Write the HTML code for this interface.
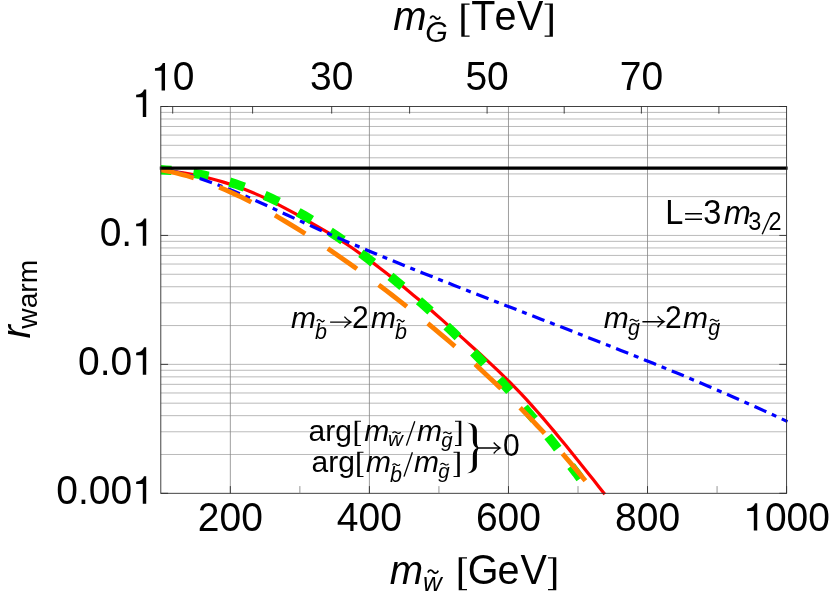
<!DOCTYPE html><html><head><meta charset="utf-8"><title>plot</title><style>html,body{margin:0;padding:0;background:#fff}</style></head><body><svg width="830" height="593" viewBox="0 0 830 593" style="display:block;font-family:'Liberation Sans',sans-serif;font-kerning:none">
<rect width="830" height="593" fill="#fff"/>
<path d="M160.8,235.43H786.6M160.8,196.62H786.6M160.8,173.92H786.6M160.8,157.81H786.6M160.8,145.31H786.6M160.8,135.10H786.6M160.8,126.47H786.6M160.8,118.99H786.6M160.8,112.40H786.6M160.8,364.37H786.6M160.8,325.55H786.6M160.8,302.85H786.6M160.8,286.74H786.6M160.8,274.25H786.6M160.8,264.04H786.6M160.8,255.41H786.6M160.8,247.93H786.6M160.8,241.33H786.6M160.8,454.49H786.6M160.8,431.78H786.6M160.8,415.67H786.6M160.8,403.18H786.6M160.8,392.97H786.6M160.8,384.34H786.6M160.8,376.86H786.6M160.8,370.27H786.6" stroke="#9c9c9c" stroke-width="0.7" fill="none"/>
<path d="M230.33,106.5V493.3M369.40,106.5V493.3M508.47,106.5V493.3M647.53,106.5V493.3" stroke="#858585" stroke-width="0.8" fill="none"/>
<clipPath id="c"><rect x="159.3" y="106.5" width="628.8" height="389.6"/></clipPath>
<g clip-path="url(#c)" fill="none">
<path d="M160.8,169.5 L166.4,170.1 L172.0,170.8 L177.7,171.6 L183.3,172.4 L188.9,173.4 L194.5,174.5 L200.1,175.7 L205.8,176.9 L211.4,178.3 L217.0,179.8 L222.6,181.5 L228.2,183.2 L233.9,185.1 L239.5,187.0 L245.1,189.1 L250.7,191.4 L256.3,193.7 L262.0,196.2 L267.6,198.9 L273.2,201.6 L278.8,204.5 L284.4,207.4 L290.1,210.4 L295.7,213.5 L301.3,216.7 L306.9,219.9 L312.5,223.2 L318.2,226.4 L323.8,229.7 L329.4,233.0 L335.0,236.5 L340.6,240.0 L346.3,243.6 L351.9,247.4 L357.5,251.3 L363.1,255.3 L368.7,259.3 L374.4,263.5 L380.0,267.8 L385.6,272.1 L391.2,276.5 L396.9,281.0 L402.5,285.6 L408.1,290.3 L413.7,295.0 L419.3,299.7 L425.0,304.5 L430.6,309.4 L436.2,314.3 L441.8,319.2 L447.4,324.2 L453.1,329.2 L458.7,334.2 L464.3,339.2 L469.9,344.3 L475.5,349.4 L481.2,354.5 L486.8,359.7 L492.4,364.9 L498.0,370.3 L503.6,375.7 L509.3,381.3 L514.9,387.0 L520.5,392.8 L526.1,398.8 L531.7,405.0 L537.4,411.3 L543.0,417.7 L548.6,424.3 L554.2,431.0 L559.8,437.8 L565.5,444.7 L571.1,451.6 L576.7,458.5 L582.3,465.6 L587.9,472.6 L593.6,479.7 L599.2,486.8 L604.8,493.9" stroke="#ff0000" stroke-width="3.2" transform="translate(0,0.4)"/>
<path d="M160.8,169.5 L166.1,169.8 L171.5,170.1 L176.8,170.6 L182.1,171.2 L187.4,171.9 L192.8,172.8 L198.1,173.7 L203.4,174.8 L208.8,176.0 L214.1,177.3 L219.4,178.7 L224.7,180.2 L230.1,181.9 L235.4,183.6 L240.7,185.5 L246.0,187.4 L251.4,189.5 L256.7,191.7 L262.0,193.9 L267.4,196.3 L272.7,198.8 L278.0,201.3 L283.3,204.0 L288.7,206.8 L294.0,209.6 L299.3,212.6 L304.7,215.6 L310.0,218.8 L315.3,222.0 L320.6,225.3 L326.0,228.7 L331.3,232.2 L336.6,235.7 L341.9,239.4 L347.3,243.1 L352.6,246.9 L357.9,250.8 L363.3,254.7 L368.6,258.8 L373.9,262.9 L379.2,267.1 L384.6,271.3 L389.9,275.6 L395.2,280.0 L400.6,284.5 L405.9,289.0 L411.2,293.6 L416.5,298.3 L421.9,303.0 L427.2,307.8 L432.5,312.6 L437.8,317.5 L443.2,322.5 L448.5,327.5 L453.8,332.6 L459.2,337.8 L464.5,343.0 L469.8,348.3 L475.1,353.7 L480.5,359.2 L485.8,364.7 L491.1,370.4 L496.5,376.1 L501.8,381.9 L507.1,387.7 L512.4,393.7 L517.8,399.8 L523.1,405.9 L528.4,412.2 L533.7,418.5 L539.1,424.9 L544.4,431.5 L549.7,438.1 L555.1,444.8 L560.4,451.7 L565.7,458.6 L571.0,465.7 L576.4,472.8 L581.7,480.1" stroke="#00f800" stroke-width="9.4" stroke-dasharray="15.5 22" stroke-dashoffset="4.8" transform="translate(0,0.3)"/>
<path d="M160.8,169.0 L168.7,170.4 L176.7,172.1 L184.6,174.1 L192.5,176.3 L200.5,178.7 L208.4,181.4 L216.3,184.2 L224.3,187.3 L232.2,190.5 L240.1,193.8 L248.1,197.2 L256.0,200.7 L263.9,204.3 L271.9,207.9 L279.8,211.6 L287.7,215.2 L295.7,218.9 L303.6,222.5 L311.5,226.1 L319.5,229.7 L327.4,233.2 L335.3,236.6 L343.3,240.1 L351.2,243.5 L359.1,246.8 L367.1,250.2 L375.0,253.5 L382.9,256.8 L390.9,260.0 L398.8,263.3 L406.7,266.5 L414.7,269.7 L422.6,272.9 L430.5,276.0 L438.5,279.2 L446.4,282.3 L454.3,285.4 L462.3,288.6 L470.2,291.7 L478.1,294.8 L486.0,297.8 L494.0,300.9 L501.9,304.0 L509.8,307.1 L517.8,310.1 L525.7,313.2 L533.6,316.3 L541.6,319.4 L549.5,322.4 L557.4,325.5 L565.4,328.6 L573.3,331.7 L581.2,334.8 L589.2,337.9 L597.1,341.0 L605.0,344.1 L613.0,347.2 L620.9,350.4 L628.8,353.5 L636.8,356.7 L644.7,359.9 L652.6,363.1 L660.6,366.3 L668.5,369.6 L676.4,372.8 L684.4,376.1 L692.3,379.5 L700.2,382.8 L708.2,386.2 L716.1,389.6 L724.0,393.0 L732.0,396.5 L739.9,399.9 L747.8,403.5 L755.8,407.0 L763.7,410.6 L771.6,414.2 L779.6,417.9 L787.5,421.6" stroke="#0000ff" stroke-width="3.2" stroke-dasharray="13 6 5 6" stroke-dashoffset="20"/>
<path d="M160.8,170.0 L166.2,170.9 L171.6,172.0 L176.9,173.2 L182.3,174.6 L187.7,176.0 L193.1,177.7 L198.4,179.4 L203.8,181.2 L209.2,183.2 L214.6,185.3 L219.9,187.5 L225.3,189.8 L230.7,192.2 L236.1,194.7 L241.4,197.2 L246.8,199.9 L252.2,202.7 L257.6,205.5 L262.9,208.5 L268.3,211.5 L273.7,214.5 L279.1,217.7 L284.4,220.9 L289.8,224.1 L295.2,227.4 L300.6,230.8 L306.0,234.2 L311.3,237.7 L316.7,241.2 L322.1,244.8 L327.5,248.4 L332.8,252.0 L338.2,255.7 L343.6,259.4 L349.0,263.2 L354.3,267.0 L359.7,270.9 L365.1,274.8 L370.5,278.8 L375.8,282.8 L381.2,286.8 L386.6,290.9 L392.0,295.0 L397.3,299.1 L402.7,303.3 L408.1,307.6 L413.5,311.8 L418.8,316.2 L424.2,320.5 L429.6,324.9 L435.0,329.4 L440.3,333.9 L445.7,338.4 L451.1,343.0 L456.5,347.7 L461.9,352.4 L467.2,357.2 L472.6,362.0 L478.0,366.9 L483.4,371.9 L488.7,376.9 L494.1,382.0 L499.5,387.2 L504.9,392.4 L510.2,397.7 L515.6,403.1 L521.0,408.6 L526.4,414.1 L531.7,419.7 L537.1,425.5 L542.5,431.2 L547.9,437.1 L553.2,443.1 L558.6,449.2 L564.0,455.3 L569.4,461.6 L574.7,467.9 L580.1,474.4 L585.5,480.9" stroke="#ff8000" stroke-width="4.8" stroke-dasharray="35.5 27" stroke-dashoffset="1.5"/>
</g>
<path d="M159.8,168.1H787.6" stroke="#000" stroke-width="3.4" fill="none"/>
<rect x="160.8" y="106.5" width="625.8" height="386.8" fill="none" stroke="#2e2e2e" stroke-width="0.9"/>
<path d="M299.87,493.3v-7.2M438.93,493.3v-7.2M578.00,493.3v-7.2M717.07,493.3v-7.2" stroke="#8a8a8a" stroke-width="0.9" fill="none"/>
<path d="M160.8,106.50h7.3M786.6,106.50h-7.3M160.8,235.43h7.3M786.6,235.43h-7.3M160.8,364.37h7.3M786.6,364.37h-7.3M160.8,493.30h7.3M786.6,493.30h-7.3M230.33,493.3v-7.2M369.40,493.3v-7.2M508.47,493.3v-7.2M647.53,493.3v-7.2M786.60,493.3v-7.2M172.7,106.5v7.1M252.6,106.5v7.1M331.7,106.5v7.1M409.6,106.5v7.1M487.1,106.5v7.1M564.2,106.5v7.1M641.4,106.5v7.1M718.9,106.5v7.1" stroke="#2e2e2e" stroke-width="0.9" fill="none"/>
<g opacity="0.999">
<text x="393.30" y="29.90" font-size="40" font-style="italic">m</text>
<text transform="translate(425.15,42.10) scale(1,1.03)" font-size="29" font-style="italic">G</text>
<path d="M430.30,18.55C431.49,15.13 433.86,15.70 435.25,17.60S439.01,20.07 440.20,16.65" stroke="#000" stroke-width="1.8" fill="none"/>
<path d="M461.30,3.55H469.60v1.26H464.66V35.43H469.60v1.26H461.30Z" fill="#000"/>
<text transform="translate(471.31,29.90) scale(1,1.06)" font-size="39.5">T</text>
<text transform="translate(494.52,29.90) scale(1,1.02)" font-size="39.5">e</text>
<text transform="translate(517.00,29.90) scale(1,1.06)" font-size="39.5">V</text>
<path d="M552.89,3.55H544.60v1.26H549.54V35.43H544.60v1.26H552.89Z" fill="#000"/>
<text x="389.80" y="583.50" font-size="40" font-style="italic">m</text>
<text x="422.90" y="590.80" font-size="26" font-style="italic">w</text>
<path d="M427.90,572.55C429.14,569.13 431.61,569.70 433.05,571.60S436.96,574.07 438.20,570.65" stroke="#000" stroke-width="1.8" fill="none"/>
<path d="M458.70,557.15H467.00v1.26H462.06V589.03H467.00v1.26H458.70Z" fill="#000"/>
<text transform="translate(467.82,583.50) scale(1,1.06)" font-size="39.5">G</text>
<text transform="translate(497.62,583.50) scale(1,1.02)" font-size="39.5">e</text>
<text transform="translate(520.40,583.50) scale(1,1.06)" font-size="39.5">V</text>
<path d="M556.29,557.15H548.00v1.26H552.94V589.03H548.00v1.26H556.29Z" fill="#000"/>
<path transform="translate(151.02,90.40) scale(39,-39)" d="M.359,0V.703H.300C.283,.640 .215,.576 .101,.566V.503H.271V0Z" fill="#000"/>
<text transform="translate(172.70,90.40) scale(1,1.06)" font-size="39">0</text>
<text transform="translate(310.02,90.40) scale(1,1.06)" font-size="39">3</text>
<text transform="translate(331.70,90.40) scale(1,1.06)" font-size="39">0</text>
<text transform="translate(465.42,90.40) scale(1,1.06)" font-size="39">5</text>
<text transform="translate(487.10,90.40) scale(1,1.06)" font-size="39">0</text>
<text transform="translate(619.72,90.40) scale(1,1.06)" font-size="39">7</text>
<text transform="translate(641.40,90.40) scale(1,1.06)" font-size="39">0</text>
<text transform="translate(197.81,530.60) scale(1,1.06)" font-size="39">2</text>
<text transform="translate(219.49,530.60) scale(1,1.06)" font-size="39">0</text>
<text transform="translate(241.18,530.60) scale(1,1.06)" font-size="39">0</text>
<text transform="translate(336.87,530.60) scale(1,1.06)" font-size="39">4</text>
<text transform="translate(358.56,530.60) scale(1,1.06)" font-size="39">0</text>
<text transform="translate(380.24,530.60) scale(1,1.06)" font-size="39">0</text>
<text transform="translate(475.94,530.60) scale(1,1.06)" font-size="39">6</text>
<text transform="translate(497.62,530.60) scale(1,1.06)" font-size="39">0</text>
<text transform="translate(519.31,530.60) scale(1,1.06)" font-size="39">0</text>
<text transform="translate(615.01,530.60) scale(1,1.06)" font-size="39">8</text>
<text transform="translate(636.69,530.60) scale(1,1.06)" font-size="39">0</text>
<text transform="translate(658.38,530.60) scale(1,1.06)" font-size="39">0</text>
<path transform="translate(743.23,530.60) scale(39,-39)" d="M.359,0V.703H.300C.283,.640 .215,.576 .101,.566V.503H.271V0Z" fill="#000"/>
<text transform="translate(764.92,530.60) scale(1,1.06)" font-size="39">0</text>
<text transform="translate(786.60,530.60) scale(1,1.06)" font-size="39">0</text>
<text transform="translate(808.28,530.60) scale(1,1.06)" font-size="39">0</text>
<path transform="translate(132.22,116.90) scale(39,-39)" d="M.359,0V.703H.300C.283,.640 .215,.576 .101,.566V.503H.271V0Z" fill="#000"/>
<text transform="translate(99.69,245.83) scale(1,1.06)" font-size="39">0</text>
<text transform="translate(121.37,245.83) scale(1,1.06)" font-size="39">.</text>
<path transform="translate(132.22,245.83) scale(39,-39)" d="M.359,0V.703H.300C.283,.640 .215,.576 .101,.566V.503H.271V0Z" fill="#000"/>
<text transform="translate(78.01,374.77) scale(1,1.06)" font-size="39">0</text>
<text transform="translate(99.69,374.77) scale(1,1.06)" font-size="39">.</text>
<text transform="translate(110.53,374.77) scale(1,1.06)" font-size="39">0</text>
<path transform="translate(132.22,374.77) scale(39,-39)" d="M.359,0V.703H.300C.283,.640 .215,.576 .101,.566V.503H.271V0Z" fill="#000"/>
<text transform="translate(56.32,503.70) scale(1,1.06)" font-size="39">0</text>
<text transform="translate(78.01,503.70) scale(1,1.06)" font-size="39">.</text>
<text transform="translate(88.85,503.70) scale(1,1.06)" font-size="39">0</text>
<text transform="translate(110.53,503.70) scale(1,1.06)" font-size="39">0</text>
<path transform="translate(132.22,503.70) scale(39,-39)" d="M.359,0V.703H.300C.283,.640 .215,.576 .101,.566V.503H.271V0Z" fill="#000"/>
<g transform="translate(30,338) rotate(-90)">
<text x="-0.60" y="0.00" font-size="40" font-style="italic">r</text>
<text x="9.30" y="7.40" font-size="28.2">warm</text>
</g>
<text transform="translate(665.20,224.30) scale(1,1.06)" font-size="32.5">L</text>
<path d="M685.1,213.8H702M685.1,219.3H702" stroke="#000" stroke-width="1.6" fill="none"/>
<text transform="translate(703.30,224.30) scale(1,1.06)" font-size="32.5">3</text>
<text x="723.71" y="224.30" font-size="32.5" font-style="italic">m</text>
<text transform="translate(748.36,230.30) scale(1,1.06)" font-size="23.5">3</text>
<path d="M771.60,213.20L762.20,234.20" stroke="#000" stroke-width="1.4" fill="none"/>
<text transform="translate(768.43,230.30) scale(1,1.06)" font-size="23.5">2</text>
<text x="290.95" y="328.40" font-size="30" font-style="italic">m</text>
<text x="315.08" y="339.20" font-size="21.5" font-style="italic">b</text>
<path d="M316.90,321.35C317.80,319.01 319.60,319.40 320.65,320.70S323.50,322.39 324.40,320.05" stroke="#000" stroke-width="1.3" fill="none"/>
<path d="M330.10,322.10H350.90M344.40,316.60Q347.65,320.45 350.90,322.10Q347.65,323.75 344.40,327.60" stroke="#000" stroke-width="1.35" fill="none" stroke-linejoin="miter"/>
<text transform="translate(352.10,328.40) scale(1,1.06)" font-size="30">2</text>
<text x="371.05" y="328.40" font-size="30" font-style="italic">m</text>
<text x="395.08" y="339.20" font-size="21.5" font-style="italic">b</text>
<path d="M396.90,321.35C397.80,319.01 399.60,319.40 400.65,320.70S403.50,322.39 404.40,320.05" stroke="#000" stroke-width="1.3" fill="none"/>
<text x="603.85" y="328.40" font-size="30" font-style="italic">m</text>
<text x="628.00" y="335.00" font-size="21.5" font-style="italic">g</text>
<path d="M630.00,320.82C631.06,318.94 633.17,319.25 634.40,320.30S637.74,321.67 638.80,319.78" stroke="#000" stroke-width="1.25" fill="none"/>
<path d="M642.40,321.70H664.10M657.60,316.20Q660.85,320.05 664.10,321.70Q660.85,323.35 657.60,327.20" stroke="#000" stroke-width="1.35" fill="none" stroke-linejoin="miter"/>
<text transform="translate(665.10,328.40) scale(1,1.06)" font-size="30">2</text>
<text x="682.95" y="328.40" font-size="30" font-style="italic">m</text>
<text x="708.20" y="335.00" font-size="21.5" font-style="italic">g</text>
<path d="M710.20,320.82C711.26,318.94 713.37,319.25 714.60,320.30S717.94,321.67 719.00,319.78" stroke="#000" stroke-width="1.25" fill="none"/>
<text x="308.60" y="440.80" font-size="30">arg</text>
<path d="M354.70,420.79H361.00v0.96H357.25V445.00H361.00v0.96H354.70Z" fill="#000"/>
<text x="364.15" y="440.80" font-size="30" font-style="italic">m</text>
<text x="387.88" y="446.40" font-size="20.5" font-style="italic">w</text>
<path d="M392.50,433.10C393.47,431.30 395.42,431.60 396.55,432.60S399.63,433.90 400.60,432.10" stroke="#000" stroke-width="1.2" fill="none"/>
<path d="M414.80,421.30L406.40,445.60" stroke="#000" stroke-width="1.35" fill="none"/>
<text x="416.95" y="440.80" font-size="30" font-style="italic">m</text>
<text x="441.20" y="446.80" font-size="20.5" font-style="italic">g</text>
<path d="M443.40,433.40C444.36,431.60 446.28,431.90 447.40,432.90S450.44,434.20 451.40,432.40" stroke="#000" stroke-width="1.2" fill="none"/>
<path d="M461.30,420.79H455.00v0.96H458.75V445.00H455.00v0.96H461.30Z" fill="#000"/>
<text x="311.50" y="471.80" font-size="30">arg</text>
<path d="M357.20,451.79H363.50v0.96H359.75V476.00H363.50v0.96H357.20Z" fill="#000"/>
<text x="366.05" y="471.80" font-size="30" font-style="italic">m</text>
<text x="389.88" y="482.40" font-size="21.5" font-style="italic">b</text>
<path d="M392.50,465.20C393.39,463.40 395.16,463.70 396.20,464.70S399.01,466.00 399.90,464.20" stroke="#000" stroke-width="1.2" fill="none"/>
<path d="M412.40,452.30L404.00,476.60" stroke="#000" stroke-width="1.35" fill="none"/>
<text x="414.05" y="471.80" font-size="30" font-style="italic">m</text>
<text x="438.30" y="477.80" font-size="20.5" font-style="italic">g</text>
<path d="M440.50,464.70C441.46,462.90 443.38,463.20 444.50,464.20S447.54,465.50 448.50,463.70" stroke="#000" stroke-width="1.2" fill="none"/>
<path d="M459.80,451.79H453.50v0.96H457.25V476.00H453.50v0.96H459.80Z" fill="#000"/>
<path d="M466.9,422.7C473,423 476.9,425.5 476.9,431V441C476.9,445 477.6,447 479.3,448C477.6,449 476.9,451 476.9,455V465C476.9,470.5 473,473 466.9,473.3C471.3,471.8 472.8,469.5 472.8,465V456C472.8,451.5 474.3,449 477,448C474.3,447 472.8,444.5 472.8,440V431C472.8,426.5 471.3,424.2 466.9,422.7Z" fill="#000"/>
<path d="M478.50,448.00H500.20M493.70,442.50Q496.95,446.35 500.20,448.00Q496.95,449.65 493.70,453.50" stroke="#000" stroke-width="1.35" fill="none" stroke-linejoin="miter"/>
<text transform="translate(503.10,456.10) scale(1,1.06)" font-size="30">0</text>
</g>
</svg></body></html>
